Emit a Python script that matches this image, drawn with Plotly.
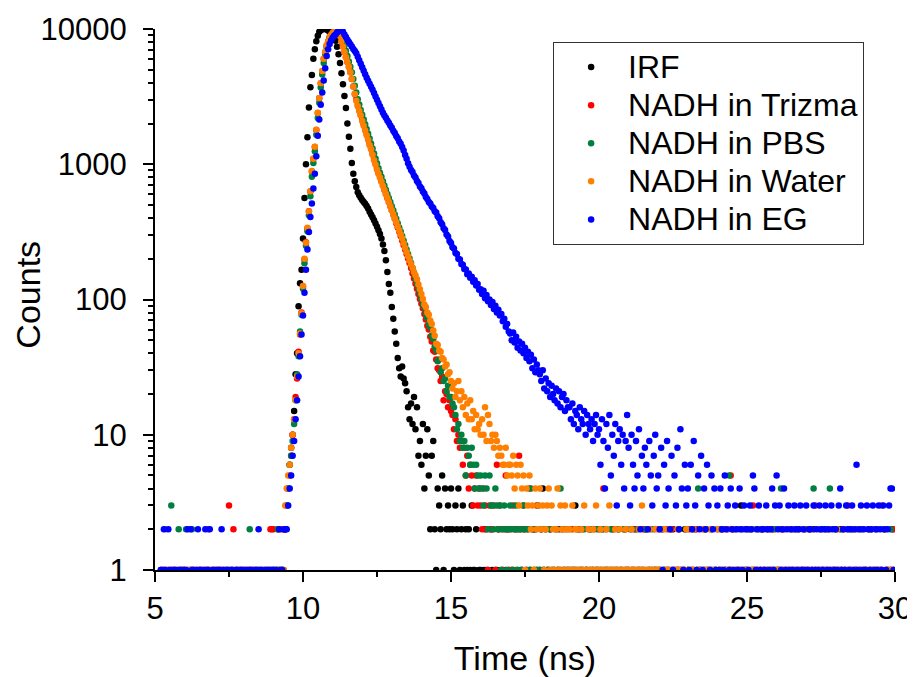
import plotly.graph_objects as go

# Time channels: 5.00 ns ... 29.95 ns, channel width 0.05 ns
T_START = 5.0
T_STEP = 0.05
N_CH = 500
time_ns = [round(T_START + T_STEP * i, 2) for i in range(N_CH)]

series_names = ["IRF", "NADH in Trizma", "NADH in PBS", "NADH in Water", "NADH in EG"]

irf_counts = [
    0,0,0,0,1,0,1,1,0,1,0,0,1,1,0,1,0,1,1,0,
    1,0,1,0,0,1,1,0,1,0,1,1,0,0,1,0,1,0,0,1,
    0,1,1,0,1,0,0,1,0,1,1,0,1,0,0,1,1,0,1,0,
    1,0,0,1,1,0,1,0,1,1,0,1,0,0,1,0,1,1,0,1,
    1,0,1,2,1,1,1,2,2,3,4,6,8,10,15,28,40,89,132,166,
    282,562,1000,1585,2630,3715,4570,6030,7080,8130,8900,9550,9770,9950,10000,9980,9900,9750,9550,9300,
    9000,8700,8200,7400,6500,5600,4700,3900,3200,2600,2000,1600,1300,1020,850,750,680,620,590,565,
    545,527,510,492,470,445,425,405,385,365,345,325,305,282,255,228,195,160,130,112,
    88,72,58,47,37,31,27,32,26,24,21,16,13,17,12,19,11,16,7,9,
    6,12,4,7,11,5,2,7,9,2,1,4,3,2,5,1,4,2,3,2,
    4,2,1,3,2,4,1,2,3,1,2,1,2,1,3,1,1,2,0,1,
    1,0,1,2,1,1,0,2,1,0,1,1,2,0,1,1,0,1,2,1,
    0,1,1,0,2,1,0,1,1,2,0,1,0,1,1,0,2,1,1,0,
    1,2,4,1,0,1,1,2,0,1,1,0,1,2,1,0,1,1,0,1,
    1,0,1,1,3,1,0,2,1,1,0,1,1,0,2,1,1,0,1,1,
    0,1,2,1,0,1,1,0,1,2,1,0,1,1,0,1,0,2,1,1,
    1,0,1,1,2,0,1,1,0,1,1,2,2,0,1,1,0,1,1,0,
    1,1,0,2,1,0,1,1,0,1,2,1,0,1,1,0,1,1,2,0,
    1,0,1,1,0,2,1,0,1,1,0,1,2,1,0,1,1,0,1,1,
    0,1,1,2,0,1,1,0,1,1,2,0,1,1,0,1,3,1,0,1,
    1,0,2,1,1,0,1,1,0,1,2,1,0,1,1,0,1,2,1,0,
    1,1,0,1,2,1,0,1,1,0,1,1,2,0,1,1,0,1,1,2,
    0,1,1,0,1,2,1,0,1,1,0,1,1,2,1,0,1,0,1,1,
    1,0,1,2,1,0,1,1,0,1,1,2,0,1,1,0,1,1,0,1,
    1,1,0,1,2,1,0,1,1,0,1,1,0,2,1,1,0,1,2,1,
]

trizma_counts = [
    0,0,0,0,0,1,0,1,0,0,1,1,0,1,0,0,1,0,1,1,
    0,1,0,0,1,1,0,1,0,1,0,0,1,0,1,1,2,1,0,1,
    1,0,0,1,0,1,1,0,1,0,3,0,1,2,0,1,0,1,1,0,
    0,1,1,0,1,0,0,1,1,0,1,0,1,1,0,0,1,0,2,2,
    2,1,0,1,1,2,1,0,2,3,4,5,7,10,13,19,26,41,55,80,
    125,198,265,335,450,630,885,1100,1340,1790,2390,3080,3960,4880,6000,6740,7560,8100,8690,9000,
    9330,9560,9780,10000,9440,8910,8130,7410,6760,6170,5690,5250,4790,4270,3760,3310,3020,2750,2510,2320,
    2140,1972,1820,1679,1549,1422,1309,1202,1104,1016,933,867,807,750,697,649,603,562,525,490,
    457,425,395,367,341,318,295,273,253,234,217,201,186,171,156,143,131,120,110,101,
    93,86,78,71,64,60,53,49,42,41,36,31,30,25,27,18,21,20,16,18,
    15,14,11,13,9,10,8,9,6,8,5,7,4,6,5,3,4,5,3,4,
    3,2,4,3,2,1,3,2,2,3,1,6,2,3,2,1,2,5,2,1,
    2,1,3,2,1,2,7,2,1,3,2,1,2,4,1,2,1,2,3,1,
    1,2,1,0,2,1,1,2,1,0,1,2,1,1,0,2,1,1,2,1,
    0,1,2,1,1,0,2,1,1,2,0,1,1,2,1,0,1,2,1,1,
    2,1,0,4,1,2,1,0,1,1,2,1,0,2,1,1,0,1,2,1,
    1,0,2,1,1,2,0,1,1,0,2,1,1,0,1,2,1,0,1,1,
    2,1,1,0,1,1,2,0,1,2,1,0,1,1,2,1,0,1,1,0,
    1,2,0,1,1,0,2,1,1,0,1,2,1,0,1,1,2,0,1,1,
    0,1,2,1,0,1,1,2,1,5,1,0,2,1,1,0,1,2,1,0,
    1,1,0,2,3,1,0,1,2,1,1,0,1,2,1,0,1,1,2,1,
    0,1,1,2,1,0,1,1,0,2,1,1,0,1,2,1,0,1,1,2,
    1,0,2,1,1,0,3,1,0,1,2,1,1,0,1,1,2,0,1,1,
    2,1,0,1,1,2,1,0,3,1,0,1,2,1,1,0,1,2,0,1,
    1,0,1,2,1,1,0,1,2,0,1,1,0,2,1,1,0,1,1,2,
]

pbs_counts = [
    0,0,0,0,1,0,1,0,0,1,0,3,0,1,1,0,2,1,0,1,
    1,2,0,1,1,2,0,1,0,0,1,1,0,1,0,1,1,0,1,0,
    0,1,0,1,1,0,1,0,0,1,1,0,1,0,1,1,0,1,0,1,
    1,0,0,1,2,1,0,1,0,1,1,0,1,0,0,1,1,0,1,0,
    1,0,1,2,1,0,1,1,2,3,4,6,7,9,12,18,28,38,58,77,
    120,185,250,320,420,580,810,1020,1250,1650,2200,2850,3700,4600,5600,6500,7300,7900,8500,8900,
    9250,9500,9750,9920,10000,9440,8910,8200,7560,6920,6310,5750,5250,4790,4270,3800,3390,3020,2760,2520,
    2320,2140,1972,1820,1679,1549,1422,1309,1202,1104,1016,933,867,807,750,697,649,603,562,525,
    490,457,425,395,367,341,318,295,273,253,234,217,201,186,171,156,143,131,120,110,
    101,92,87,78,73,65,62,54,51,45,42,35,36,29,31,25,26,21,23,19,
    19,17,16,14,11,12,9,10,8,9,5,8,7,6,8,6,4,6,5,4,
    5,4,3,5,4,2,5,3,3,2,4,3,2,3,1,2,3,2,1,2,
    3,2,1,2,3,1,2,2,1,3,2,1,2,1,4,2,1,2,1,3,
    1,2,1,1,2,0,1,2,1,1,0,2,1,1,4,1,2,0,1,1,
    2,1,1,0,1,2,1,1,0,1,2,1,0,1,1,2,1,0,1,2,
    1,0,1,2,1,1,0,1,2,1,0,1,1,2,0,1,1,2,1,0,
    1,2,1,0,1,1,2,1,0,1,1,0,2,1,1,0,1,2,1,1,
    0,1,2,1,1,0,1,1,2,0,1,1,0,1,2,1,1,0,1,2,
    1,1,0,2,1,0,1,4,1,1,0,1,2,1,1,0,2,1,0,1,
    2,0,1,1,2,1,0,1,5,1,1,2,0,1,1,2,1,0,1,1,
    1,2,1,0,1,1,2,1,0,1,2,1,1,0,2,1,0,1,1,2,
    0,1,1,4,1,2,1,0,1,1,2,0,1,1,0,2,1,1,0,1,
    1,1,2,0,1,4,1,1,0,2,1,1,0,1,2,1,4,1,0,1,
    2,1,0,1,1,2,1,0,1,2,1,1,0,1,1,2,0,1,2,1,
    1,0,2,1,1,0,1,2,1,1,0,1,2,1,0,1,1,2,1,1,
]

water_counts = [
    0,0,0,0,0,1,0,2,1,0,0,1,1,0,1,0,0,1,1,0,
    1,0,0,1,0,1,1,0,1,1,0,0,1,1,0,0,1,1,0,1,
    0,1,1,0,0,1,0,1,1,1,0,1,0,0,1,1,0,1,0,1,
    1,0,1,1,0,1,0,0,1,0,1,1,0,1,0,1,0,1,1,0,
    1,1,0,1,0,1,2,1,3,4,5,6,8,10,13,18,27,40,56,79,
    126,200,263,339,447,631,891,1096,1349,1800,2399,3090,3981,4898,6026,6761,7586,8128,8710,9016,
    9333,9550,9772,10000,9440,8910,8130,7410,6760,6170,5690,5250,4790,4270,3760,3310,2950,2690,2480,2290,
    2090,1930,1780,1640,1510,1380,1290,1175,1070,990,912,851,794,741,692,646,603,562,525,490,
    457,427,398,372,347,324,302,282,260,240,224,209,195,182,172,160,151,141,129,119,
    110,101,92,88,80,77,70,66,59,54,47,46,42,41,37,36,32,33,28,29,
    25,22,24,19,21,25,18,21,16,19,14,17,13,18,13,15,11,14,11,12,
    10,13,10,16,9,14,12,9,10,8,10,9,7,8,7,6,6,8,5,6,
    6,5,7,4,6,5,3,6,4,5,1,4,3,5,2,3,1,4,2,3,
    4,2,3,1,2,3,4,1,3,2,1,2,4,1,3,2,1,3,2,1,
    2,1,3,1,2,2,1,0,2,1,3,1,1,2,1,0,2,1,3,1,
    1,2,1,1,0,2,1,3,1,0,1,2,1,1,2,0,1,1,2,1,
    0,1,2,1,1,0,1,2,1,3,1,0,1,1,2,1,1,0,2,1,
    1,1,0,1,2,1,1,0,2,1,1,0,1,2,1,0,1,1,0,2,
    1,0,1,1,2,0,1,1,0,1,2,1,0,1,1,2,1,0,1,1,
    2,1,0,1,1,0,2,1,1,0,1,1,2,1,0,1,1,2,0,1,
    1,0,1,2,1,1,0,1,1,2,0,1,1,0,1,2,1,1,0,1,
    1,1,0,1,1,2,1,0,1,1,0,2,1,1,0,1,1,0,2,1,
    0,1,1,2,0,1,1,0,1,2,1,1,0,1,1,0,2,1,1,0,
    1,2,1,0,1,1,0,2,1,1,0,1,1,2,0,1,1,0,1,1,
    1,1,0,1,2,1,1,0,1,1,1,3,0,2,1,1,0,1,1,1,
]

eg_counts = [
    0,0,0,0,1,1,2,1,0,2,1,1,0,1,1,0,1,1,0,1,
    1,1,2,0,2,1,1,0,1,2,1,1,0,1,2,1,1,2,0,1,
    1,0,1,1,1,2,1,0,1,1,0,1,1,1,0,1,1,0,1,1,
    0,1,1,0,1,1,1,0,1,1,2,1,1,0,1,1,0,1,1,1,
    1,1,1,0,2,1,1,2,2,2,3,4,5,7,9,13,18,27,38,55,
    76,112,166,234,316,407,513,661,851,1148,1622,2138,2754,3388,4169,5129,6310,7079,7762,8222,
    8610,8913,9120,9440,9772,10000,9772,9550,9120,8710,8318,8000,7709,7413,7129,6871,6607,6223,5875,5534,
    5212,4909,4634,4365,4150,3936,3741,3548,3357,3170,2999,2838,2685,2535,2399,2296,2203,2109,2023,1936,
    1860,1770,1705,1615,1555,1470,1420,1340,1265,1170,1100,1018,960,905,876,826,798,753,728,686,
    665,628,607,572,553,527,512,487,474,450,440,412,398,373,360,337,327,303,292,271,
    262,243,238,221,217,200,198,183,181,168,167,154,156,145,147,135,139,127,130,118,
    119,110,116,102,108,97,100,91,96,85,90,80,84,76,78,69,72,63,66,58,
    56,50,57,48,53,44,49,42,47,40,44,37,41,35,39,31,36,29,33,30,
    28,25,30,22,26,21,24,19,23,20,18,22,17,21,16,19,20,15,18,16,
    16,13,17,12,15,14,11,16,13,12,15,10,14,12,11,13,9,12,14,10,
    11,6,13,9,4,12,8,14,5,10,7,12,3,9,11,6,10,4,9,14,
    8,3,10,6,4,9,5,11,2,7,4,8,6,2,9,5,3,7,10,4,
    5,2,8,1,6,3,9,4,2,7,1,5,3,8,2,11,4,1,6,3,
    4,1,6,2,9,3,1,5,2,7,1,4,2,6,3,1,5,2,4,1,
    3,1,4,2,1,5,2,3,1,4,2,1,3,2,1,4,2,1,3,2,
    2,1,3,2,5,4,1,2,3,1,2,2,1,3,2,1,2,4,1,3,
    5,2,3,1,2,4,1,2,3,1,2,1,3,2,1,2,3,1,2,1,
    3,1,2,2,1,3,1,2,1,3,2,1,2,3,1,2,1,3,2,1,
    2,1,3,4,1,2,1,3,2,1,2,3,1,2,6,1,2,3,1,2,
    1,3,2,1,2,3,1,2,1,3,2,1,3,2,1,2,3,4,4,1,
]

series_counts = [irf_counts, trizma_counts, pbs_counts, water_counts, eg_counts]
series_colors = ["#000000", "#FF0000", "#008040", "#FF8000", "#0000FF"]

y_major = [1, 10, 100, 1000, 10000]
y_major_text = ["1", "10", "100", "1000", "10000"]
y_minor = [m * d for d in (1, 10, 100, 1000) for m in range(2, 10)]

FONT = "Arial, Liberation Sans, Helvetica, sans-serif"
LEGEND_TEXT_PX = 32

fig = go.Figure()
for name, counts, color in zip(series_names, series_counts, series_colors):
    yv = [c if c > 0 else None for c in counts]
    fig.add_trace(go.Scatter(
        x=time_ns, y=yv, mode="markers",
        name=f'<span style="font-size:{LEGEND_TEXT_PX}px">{name}</span>',
        marker=dict(size=6.5, color=color, line=dict(width=0)),
    ))

# the page adds an 8 px body margin, so the figure is sized/margined to land
# the plot area at the same screen position as the reference
fig.update_layout(
    width=907, height=669,
    margin=dict(l=147, r=20, t=21, b=107),
    paper_bgcolor="white", plot_bgcolor="white",
    font=dict(family=FONT, size=32, color="black"),
    showlegend=True,
    legend=dict(
        x=0.538, y=0.976, xanchor="left", yanchor="top",
        bordercolor="#333333", borderwidth=1, bgcolor="white",
        font=dict(family=FONT, size=27, color="black"),
        itemwidth=64,
    ),
    annotations=[dict(
        text="Counts", textangle=-90, showarrow=False,
        xref="paper", yref="paper", x=-0.1716, y=0.509,
        xanchor="center", yanchor="middle",
        font=dict(family=FONT, size=34, color="black"),
    )],
)

fig.update_xaxes(
    range=[5, 30], tickmode="linear", tick0=5, dtick=5, automargin=False,
    showline=True, linecolor="black", linewidth=2, mirror=False,
    ticks="outside", ticklen=10, tickwidth=2, tickcolor="black",
    showgrid=False, zeroline=False,
    tickfont=dict(family=FONT, size=31, color="black"),
    minor=dict(ticks="outside", ticklen=5, tickwidth=2, tickcolor="black",
               tick0=5, dtick=2.5, showgrid=False),
    title=dict(text="Time (ns)", font=dict(family=FONT, size=34, color="black"), standoff=24),
)

fig.update_yaxes(
    type="log", range=[0, 4], automargin=False,
    tickmode="array", tickvals=y_major, ticktext=y_major_text,
    showline=True, linecolor="black", linewidth=2, mirror=False,
    ticks="outside", ticklen=10, tickwidth=2, tickcolor="black",
    showgrid=False, zeroline=False, ticklabelstandoff=10,
    tickfont=dict(family=FONT, size=31, color="black"),
    minor=dict(ticks="outside", ticklen=5, tickwidth=2, tickcolor="black",
               tickmode="array", tickvals=y_minor, showgrid=False),
)

fig.write_html("out.html")
